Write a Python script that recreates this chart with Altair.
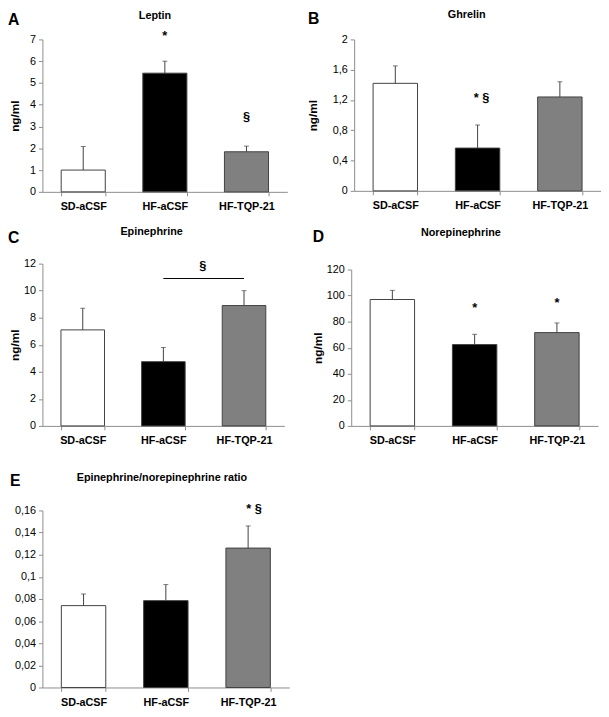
import altair as alt
import pandas as pd

groups = ["SD-aCSF", "HF-aCSF", "HF-TQP-21"]
bar_colors = ["#ffffff", "#000000", "#808080"]

# means and upper error (SEM) per panel
leptin_mean = [1.0, 5.45, 1.84]
leptin_sem = [1.08, 0.55, 0.26]
ghrelin_mean = [1.42, 0.565, 1.24]
ghrelin_sem = [0.23, 0.305, 0.20]
epi_mean = [7.1, 4.75, 8.9]
epi_sem = [1.6, 1.05, 1.1]
norepi_mean = [97.0, 62.4, 71.6]
norepi_sem = [7.0, 7.9, 7.4]
ratio_mean = [0.074, 0.0785, 0.126]
ratio_sem = [0.0105, 0.0145, 0.020]

leptin_ticks = [0, 1, 2, 3, 4, 5, 6, 7]
ghrelin_ticks = [0, 0.4, 0.8, 1.2, 1.6, 2]
epi_ticks = [0, 2, 4, 6, 8, 10, 12]
norepi_ticks = [0, 20, 40, 60, 80, 100, 120]
ratio_ticks = [0, 0.02, 0.04, 0.06, 0.08, 0.1, 0.12, 0.14, 0.16]

# significance annotations
leptin_ann_groups = ["HF-aCSF", "HF-TQP-21"]
leptin_ann_y = [7.15, 3.45]
leptin_ann_text = ["*", "§"]
ghrelin_ann_groups = ["HF-aCSF"]
ghrelin_ann_y = [1.22]
ghrelin_ann_text = ["* §"]
epi_ann_groups = ["HF-aCSF"]
epi_ann_y = [11.8]
epi_ann_text = ["§"]
epi_bracket = {"from": "HF-aCSF", "to": "HF-TQP-21", "y": 10.9}
norepi_ann_groups = ["HF-aCSF", "HF-TQP-21"]
norepi_ann_y = [90.5, 94.0]
norepi_ann_text = ["*", "*"]
ratio_ann_groups = ["HF-TQP-21"]
ratio_ann_y = [0.1615]
ratio_ann_text = ["* §"]

FONT = "Liberation Sans"
LINE = "#404040"
AXC = "#8c8c8c"


def one_row():
    return alt.InlineData(values=[{"k": 1}])


def panel(letter, title, means, sems, ticks, w, h, letter_xy, title_xy,
          ytitle, ytitle_x, ann_groups, ann_y, ann_text, ann_dx=0, bracket=None,
          ytop=0):
    df = pd.DataFrame({
        "group": groups,
        "mean": means,
        "top": [m + s for m, s in zip(means, sems)],
    })
    xenc = alt.X(
        "group:N", sort=groups,
        scale=alt.Scale(domain=groups, paddingInner=0.46, paddingOuter=0.23),
        axis=alt.Axis(title=None, labelAngle=0, labelFontWeight="bold",
                      labelFontSize=11, tickBand="extent", tickSize=4,
                      labelPadding=5, labelColor="#000000"),
    )
    yscale = alt.Scale(domain=[ticks[0], ticks[-1]], nice=False, zero=True,
                       range=[h, ytop])
    ax_kw = dict(values=ticks, tickSize=4, labelPadding=3, labelFontSize=11,
                 format="~r", labelExpr="replace(datum.label, '.', ',')",
                 labelColor="#000000", grid=False)
    if ytitle:
        ax_kw.update(title=ytitle, titleX=ytitle_x, titleY=(h + ytop) / 2, titleAngle=270,
                     titleAlign="center", titleBaseline="middle",
                     titleFontSize=12, titleFontWeight="bold", titleColor="#000000")
    else:
        ax_kw.update(title=None)

    def yenc(field):
        return alt.Y(field, scale=yscale, axis=alt.Axis(**ax_kw))

    base = alt.Chart(df)
    bars = base.mark_bar(stroke=LINE, strokeWidth=1).encode(
        x=xenc, y=yenc("mean:Q"),
        color=alt.Color("group:N", scale=alt.Scale(domain=groups, range=bar_colors), legend=None),
    )
    rules = base.mark_rule(color=LINE, strokeWidth=1).encode(
        x=xenc, y=yenc("mean:Q"), y2="top:Q")
    caps = base.mark_tick(color=LINE, size=5, thickness=1, orient="horizontal").encode(
        x=xenc, y=yenc("top:Q"))

    ann_df = pd.DataFrame({"group": ann_groups, "y": ann_y, "label": ann_text})
    ann = alt.Chart(ann_df).mark_text(fontSize=13, fontWeight="bold", baseline="middle",
                                      dx=ann_dx, color="#000000").encode(
        x=xenc, y=yenc("y:Q"), text="label:N")

    layers = [bars, rules, caps, ann]
    if bracket is not None:
        br_df = pd.DataFrame({"group": [bracket["from"]], "g2": [bracket["to"]], "y": [bracket["y"]]})
        br = alt.Chart(br_df).mark_rule(color="#000000", strokeWidth=1).encode(
            x=xenc, x2="g2:N", y=yenc("y:Q"))
        layers.append(br)

    letter_t = alt.Chart(one_row()).mark_text(
        text=letter, fontSize=16, fontWeight="bold", align="left", baseline="middle",
        color="#000000").encode(x=alt.value(letter_xy[0]), y=alt.value(letter_xy[1]))
    title_t = alt.Chart(one_row()).mark_text(
        text=title, fontSize=11, fontWeight="bold", align="center", baseline="middle",
        color="#000000").encode(x=alt.value(title_xy[0]), y=alt.value(title_xy[1]))
    layers += [letter_t, title_t]
    return alt.layer(*layers).properties(width=w, height=h)


pA = panel("A", "Leptin", leptin_mean, leptin_sem, leptin_ticks, 249, 155,
           (-35, -20), (249 / 2 - 10, -24), "ng/ml", -28,
           leptin_ann_groups, leptin_ann_y, leptin_ann_text)
pB = panel("B", "Ghrelin", ghrelin_mean, ghrelin_sem, ghrelin_ticks, 251, 154,
           (-47, -21), (251 / 2 - 11, -25), "ng/ml", -42,
           ghrelin_ann_groups, ghrelin_ann_y, ghrelin_ann_text, ann_dx=4)
pC = panel("C", "Epinephrine", epi_mean, epi_sem, epi_ticks, 246, 165,
           (-35, -26), (246 / 2 - 12, -32), "ng/ml", -28,
           epi_ann_groups, epi_ann_y, epi_ann_text, ann_dx=40, bracket=epi_bracket)
pD = panel("D", "Norepinephrine", norepi_mean, norepi_sem, norepi_ticks, 251, 165,
           (-39, -27), (251 / 2 - 14, -31), "ng/ml", -34,
           norepi_ann_groups, norepi_ann_y, norepi_ann_text, ytop=6)
pE = panel("E", "Epinephrine/norepinephrine ratio", ratio_mean, ratio_sem, ratio_ticks, 251, 180,
           (-33, -30), (251 / 2 - 4, -33), None, 0,
           ratio_ann_groups, ratio_ann_y, ratio_ann_text, ann_dx=6)

row1 = alt.hconcat(pA, pB, spacing=20)
row2 = alt.hconcat(pC, pD, spacing=28)
top_rows = alt.vconcat(row1, row2, spacing=15)
chart = alt.vconcat(top_rows, pE, spacing=27).properties(
    padding={"top": -5, "left": 0, "right": 0, "bottom": 0}
).configure(
    font=FONT
).configure_view(stroke=None).configure_axis(
    domainColor=AXC, tickColor=AXC, domainWidth=1, tickWidth=1
)

chart.save("out.html", embed_options={"renderer": "svg", "actions": False})
